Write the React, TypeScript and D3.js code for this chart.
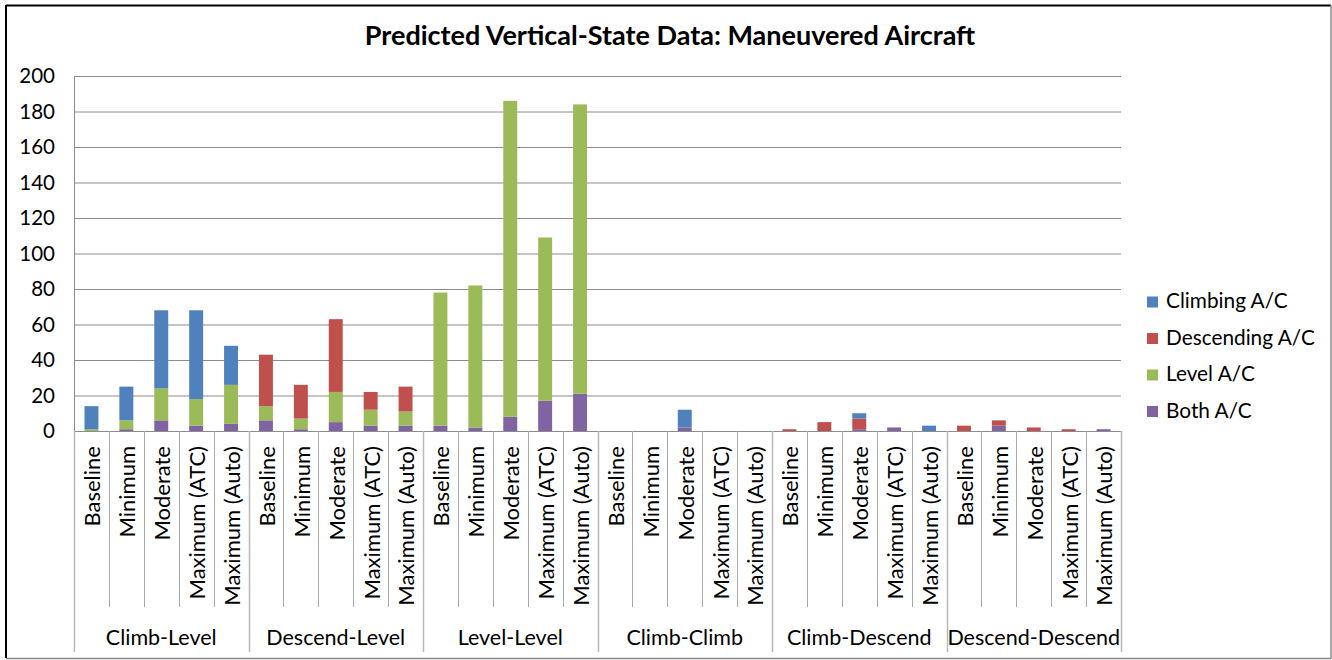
import React from "react";
import * as d3 from "d3";

const groups = ["Climb-Level", "Descend-Level", "Level-Level", "Climb-Climb", "Climb-Descend", "Descend-Descend"];
const levels = ["Baseline", "Minimum", "Moderate", "Maximum (ATC)", "Maximum (Auto)"];
const seriesNames = ["Both A/C", "Level A/C", "Descending A/C", "Climbing A/C"];
const seriesColors = ["#8064A2", "#9BBB59", "#C0504D", "#4F81BD"];
const legendOrder = ["Climbing A/C", "Descending A/C", "Level A/C", "Both A/C"];

// per category (groups x levels, 30 values)
const both = [0, 1, 6, 3, 4, 6, 1, 5, 3, 3, 3, 2, 8, 17, 21, 0, 0, 2, 0, 0, 0, 0, 1, 2, 0, 0, 3, 0, 0, 1];
const level = [1, 5, 18, 15, 22, 8, 6, 17, 9, 8, 75, 80, 178, 92, 163, 0, 0, 0, 0, 0, 0, 0, 0, 0, 0, 0, 0, 0, 0, 0];
const descending = [0, 0, 0, 0, 0, 29, 19, 41, 10, 14, 0, 0, 0, 0, 0, 0, 0, 0, 0, 0, 1, 5, 6, 0, 0, 3, 3, 2, 1, 0];
const climbing = [13, 19, 44, 50, 22, 0, 0, 0, 0, 0, 0, 0, 0, 0, 0, 0, 0, 10, 0, 0, 0, 0, 3, 0, 3, 0, 0, 0, 0, 0];
const yTicks = [0, 20, 40, 60, 80, 100, 120, 140, 160, 180, 200];

const FONT = "Lato, 'Open Sans', sans-serif";

export default function App() {
  const W = 1332, H = 660;
  const x0 = 74, x1 = 1121, yTop = 76, yBot = 431;
  const n = groups.length * levels.length;
  const idx = d3.range(n).map(String);
  const x = d3.scaleBand().domain(idx).range([x0, x1]).paddingInner(0.6).paddingOuter(0.3);
  const y = d3.scaleLinear().domain([0, 200]).range([yBot, yTop]);
  const step = x.step();

  const rows = d3.range(n).map((i) => ({ i, both: both[i], level: level[i], descending: descending[i], climbing: climbing[i] }));
  const stack = d3.stack<any>().keys(["both", "level", "descending", "climbing"])(rows);

  const groupW = step * levels.length;

  return (
    <svg width={W} height={H} style={{ position: "absolute", left: 0, top: 0, background: "#fff" }} fontFamily={FONT}>
      <rect x={0} y={0} width={W} height={H} fill="#fff" />
      {/* frame */}
      <line x1={6} y1={5.5} x2={1331} y2={5.5} stroke="#000" strokeWidth={2} />
      <line x1={6} y1={5} x2={6} y2={658} stroke="#000" strokeWidth={2} />
      <line x1={1331} y1={5} x2={1331} y2={658.5} stroke="#888" strokeWidth={1.5} />
      <line x1={6} y1={658.5} x2={1331} y2={658.5} stroke="#888" strokeWidth={1.5} />

      <text x={670} y={45} textAnchor="middle" fontSize={27} fontWeight="bold" fill="#000">
        Predicted Vertical-State Data: Maneuvered Aircraft
      </text>

      {/* gridlines */}
      {yTicks.map((t) => (
        <line key={t} x1={x0} x2={x1} y1={y(t) + 0.5} y2={y(t) + 0.5} stroke="#8c8c8c" strokeWidth={1} />
      ))}
      <line x1={x0 + 0.5} x2={x0 + 0.5} y1={yTop} y2={yBot} stroke="#8c8c8c" />
      {yTicks.map((t) => (
        <text key={"l" + t} x={55} y={y(t)} dy="0.36em" textAnchor="end" fontSize={20.5} fill="#000">
          {t}
        </text>
      ))}

      {/* bars */}
      {stack.map((s, si) => (
        <g key={si} fill={seriesColors[si]}>
          {s.map((d, i) =>
            d[1] - d[0] > 0 ? (
              <rect key={i} x={x(String(i))} width={x.bandwidth()} y={y(d[1])} height={y(d[0]) - y(d[1])} />
            ) : null
          )}
        </g>
      ))}

      {/* category ticks */}
      {d3.range(n + 1).map((i) => {
        const xx = Math.round(x0 + i * step) + 0.5;
        const isGroup = i % levels.length === 0;
        return <line key={"t" + i} x1={xx} x2={xx} y1={yBot} y2={isGroup ? 652 : 607} stroke={isGroup ? "#b8b8b8" : "#a8a8a8"} strokeWidth={isGroup ? 1.5 : 1} />;
      })}
      {d3.range(n).map((i) => {
        const cx = (x(String(i)) as number) + x.bandwidth() / 2 + 1;
        return (
          <text key={"c" + i} transform={`translate(${cx},446) rotate(-90)`} textAnchor="end" dy="0.36em" fontSize={22} fill="#000">
            {levels[i % levels.length]}
          </text>
        );
      })}
      {groups.map((g, gi) => (
        <text key={g} x={x0 + gi * groupW + groupW / 2} y={637} dy="0.36em" textAnchor="middle" fontSize={21.5} fill="#000">
          {g}
        </text>
      ))}

      {/* legend */}
      {legendOrder.map((name, li) => {
        const si = seriesNames.indexOf(name);
        const cy = 302 + li * 36.5;
        return (
          <g key={name}>
            <rect x={1147} y={cy - 5.5} width={11} height={11} fill={seriesColors[si]} />
            <text x={1166} y={cy - 1} dy="0.36em" fontSize={20.8} fill="#000">
              {name}
            </text>
          </g>
        );
      })}
    </svg>
  );
}
